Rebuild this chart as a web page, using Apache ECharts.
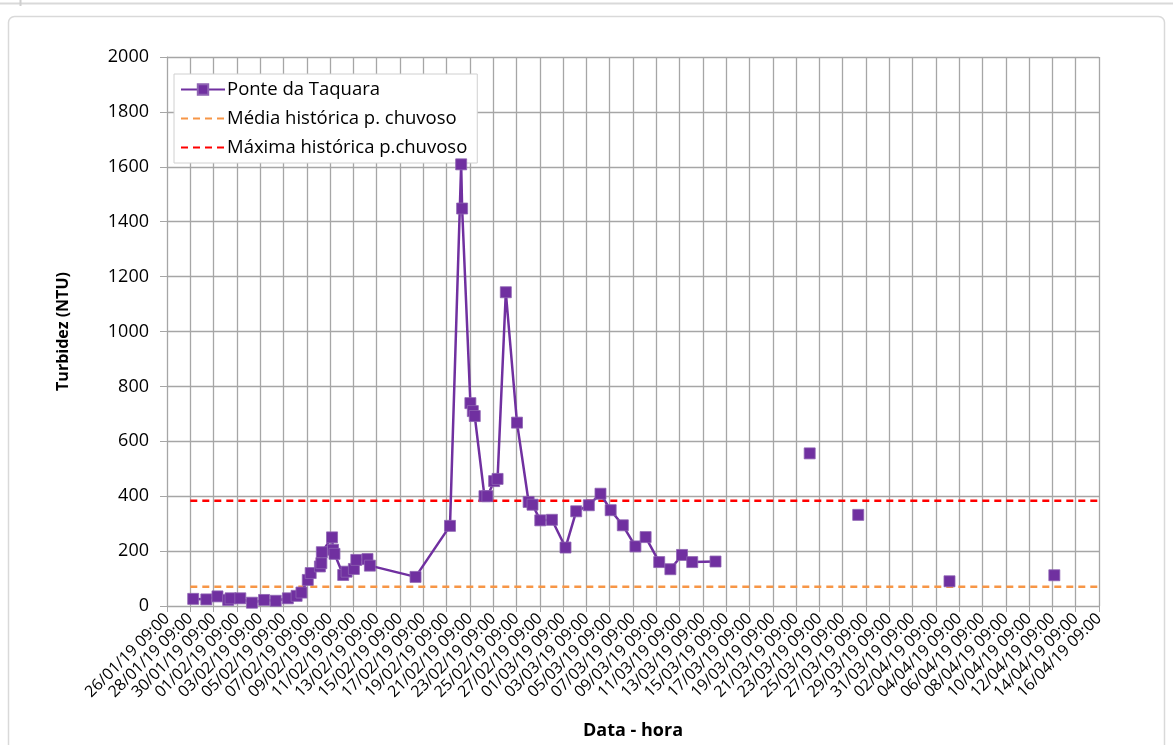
<!DOCTYPE html>
<html>
<head>
<meta charset="utf-8">
<script src="https://cdn.jsdelivr.net/npm/echarts@6/dist/echarts.min.js"></script>
<style>
html,body{margin:0;padding:0;background:#fff;}
#chart{width:1173px;height:745px;}
</style>
</head>
<body>
<div id="chart"></div>
<script>
// ---- Data ----
const axisStart = '2019-01-26 09:00';
const axisEnd = '2019-04-16 09:00';
const tickStepDays = 2;

// Ponte da Taquara – connected measurements
const sampleTimes = [
  '2019-01-28 15:00','2019-01-29 18:00','2019-01-30 17:00','2019-01-31 15:00','2019-01-31 20:00',
  '2019-02-01 16:00','2019-02-02 16:00','2019-02-03 17:00','2019-02-04 17:00','2019-02-05 18:00',
  '2019-02-06 12:00','2019-02-06 22:00','2019-02-07 11:00','2019-02-07 17:00','2019-02-08 12:00',
  '2019-02-08 15:00','2019-02-08 16:00','2019-02-09 13:00','2019-02-09 15:00','2019-02-09 18:00',
  '2019-02-10 12:00','2019-02-10 19:00','2019-02-11 10:00','2019-02-11 15:00','2019-02-12 14:00',
  '2019-02-12 19:00','2019-02-16 17:00','2019-02-19 16:00','2019-02-20 15:00','2019-02-20 17:00',
  '2019-02-21 10:00','2019-02-21 15:00','2019-02-21 19:00','2019-02-22 15:00','2019-02-22 21:00',
  '2019-02-23 11:00','2019-02-23 18:00','2019-02-24 11:00','2019-02-25 10:00','2019-02-26 10:00',
  '2019-02-26 18:00','2019-02-27 10:00','2019-02-28 10:00','2019-03-01 14:00','2019-03-02 12:00',
  '2019-03-03 14:00','2019-03-04 14:00','2019-03-05 11:00','2019-03-06 12:00','2019-03-07 14:00',
  '2019-03-08 11:00','2019-03-09 15:00','2019-03-10 14:00','2019-03-11 14:00','2019-03-12 11:00',
  '2019-03-14 11:00'
];
const turbidity = [
  26, 24, 35, 22, 28,
  28, 12, 22, 19, 28,
  37, 49, 95, 120, 144,
  156, 196, 250, 205, 190,
  113, 125, 135, 168, 171,
  147, 106, 292, 1609, 1448,
  739, 710, 692, 400, 400,
  455, 463, 1143, 668, 379,
  369, 312, 314, 213, 345,
  367, 409, 349, 294, 217,
  251, 160, 134, 186, 160,
  162
];
// Ponte da Taquara – isolated measurements (not connected)
const isolatedTimes = ['2019-03-22 13:00','2019-03-26 17:00','2019-04-03 13:00','2019-04-12 13:00'];
const isolatedTurbidity = [556, 332, 90, 112];

// Historical reference lines
const refTimes = ['2019-01-28 09:00','2019-04-16 09:00'];
const histMean = [70, 70];
const histMax = [383, 383];

const seriesNames = ['Ponte da Taquara','Média histórica p. chuvoso','Máxima histórica p.chuvoso'];
const yTicks = {min: 0, max: 2000, step: 200};

// ---- helpers ----
function toMs(s){
  const [d,t] = s.split(' ');
  const [Y,M,D] = d.split('-').map(Number);
  const [h,m] = t.split(':').map(Number);
  return Date.UTC(Y, M-1, D, h, m);
}
const baseMs = toMs(axisStart);
function toDays(s){ return (toMs(s) - baseMs) / 86400000; }
function pad(n){ return (n < 10 ? '0' : '') + n; }
function fmt(days){
  const dt = new Date(baseMs + Math.round(days * 86400000));
  return pad(dt.getUTCDate()) + '/' + pad(dt.getUTCMonth()+1) + '/' + pad(dt.getUTCFullYear()%100) +
         ' ' + pad(dt.getUTCHours()) + ':' + pad(dt.getUTCMinutes());
}
const zip = (ts, vs) => ts.map((t,i) => [toDays(t), vs[i]]);

const FONT = '"Open Sans"';
const PURPLE = '#7030A0';
const GRID = '#a6a6a6';

const chart = echarts.init(document.getElementById('chart'));
chart.setOption({
  animation: false,
  backgroundColor: '#fff',
  textStyle: {fontFamily: FONT},
  graphic: [
    {type:'rect', shape:{x:8.5, y:16.5, width:1156, height:760, r:6}, style:{fill:'none', stroke:'#d9d9d9', lineWidth:1.5}, z:-1},
    {type:'line', shape:{x1:0, y1:3.5, x2:1173, y2:3.5}, style:{stroke:'#d9d9d9', lineWidth:2}, z:-1},
    {type:'line', shape:{x1:20.5, y1:0, x2:20.5, y2:6}, style:{stroke:'#cfcfcf', lineWidth:2}, z:-1}
  ],
  grid: {left: 167, right: 74, top: 57, bottom: 139, containLabel: false},
  legend: {
    orient: 'vertical',
    left: 174, top: 74,
    padding: [6, 10, 6, 6],
    itemGap: 10,
    itemWidth: 44, itemHeight: 13,
    backgroundColor: '#fff',
    borderColor: '#d0d0d0', borderWidth: 1,
    textStyle: {fontFamily: FONT, fontSize: 18.5, color: '#000', padding: [0,0,0,-3]},
    data: [
      {name: seriesNames[0]},
      {name: seriesNames[1], itemStyle: {opacity: 0}},
      {name: seriesNames[2], itemStyle: {opacity: 0}}
    ]
  },
  xAxis: {
    type: 'value',
    min: 0,
    max: toDays(axisEnd),
    interval: tickStepDays,
    name: 'Data - hora',
    nameLocation: 'middle',
    nameGap: 116,
    nameTextStyle: {fontFamily: FONT, fontWeight: 'bold', fontSize: 18, color: '#000'},
    axisLine: {show: true, lineStyle: {color: GRID, width: 1}},
    axisTick: {show: true, length: 6, lineStyle: {color: GRID}},
    splitLine: {show: true, lineStyle: {color: GRID, width: 1.3}},
    axisLabel: {
      rotate: 45, margin: 10, fontSize: 16, color: '#000', fontFamily: FONT,
      showMinLabel: true, showMaxLabel: true, hideOverlap: false,
      formatter: v => fmt(v)
    }
  },
  yAxis: {
    type: 'value',
    min: yTicks.min, max: yTicks.max, interval: yTicks.step,
    name: 'Turbidez (NTU)',
    nameLocation: 'middle',
    nameRotate: 90,
    nameGap: 96,
    nameTextStyle: {fontFamily: FONT, fontWeight: 'bold', fontSize: 16, color: '#000'},
    axisLine: {show: true, lineStyle: {color: GRID, width: 1}},
    axisTick: {show: true, length: 7, lineStyle: {color: GRID}},
    splitLine: {show: true, lineStyle: {color: GRID, width: 1.3}},
    axisLabel: {fontSize: 18, color: '#000', fontFamily: FONT, margin: 18, formatter: v => String(v)}
  },
  series: [
    {
      name: seriesNames[0], type: 'line',
      data: zip(sampleTimes, turbidity),
      symbol: 'rect', symbolSize: 11, showAllSymbol: true,
      lineStyle: {color: PURPLE, width: 2.5},
      itemStyle: {color: PURPLE, borderColor: '#8e63b3', borderWidth: 0.8},
      z: 5
    },
    {
      name: seriesNames[0], type: 'scatter',
      data: zip(isolatedTimes, isolatedTurbidity),
      symbol: 'rect', symbolSize: 11,
      itemStyle: {color: PURPLE, borderColor: '#8e63b3', borderWidth: 0.8, opacity: 1},
      z: 5
    },
    {
      name: seriesNames[1], type: 'line',
      data: zip(refTimes, histMean),
      symbol: 'none',
      lineStyle: {color: '#F79646', width: 2.5, type: [7, 5]},
      itemStyle: {color: '#F79646'},
      z: 3
    },
    {
      name: seriesNames[2], type: 'line',
      data: zip(refTimes, histMax),
      symbol: 'none',
      lineStyle: {color: '#FF0000', width: 2.5, type: [7, 5]},
      itemStyle: {color: '#FF0000'},
      z: 3
    }
  ]
});
</script>
</body>
</html>
